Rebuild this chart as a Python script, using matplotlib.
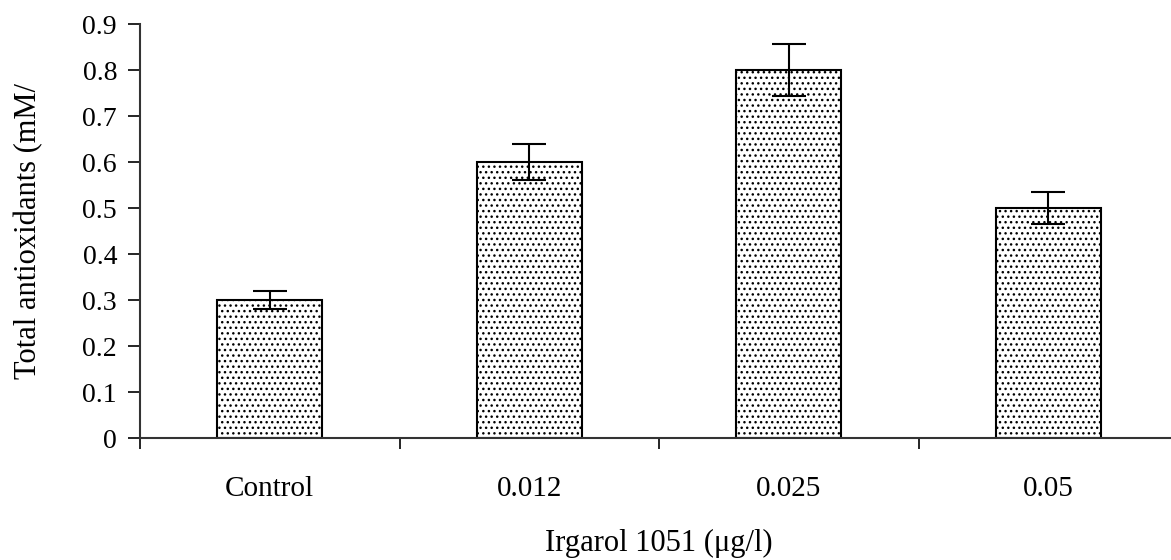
import matplotlib
matplotlib.use("Agg")
import matplotlib.pyplot as plt
import numpy as np

categories = ["Control", "0.012", "0.025", "0.05"]
values = [0.3, 0.6, 0.8, 0.5]
errors = [0.02, 0.04, 0.057, 0.035]
yticks = [0, 0.1, 0.2, 0.3, 0.4, 0.5, 0.6, 0.7, 0.8, 0.9]

plt.rcParams['font.family'] = ['Liberation Serif', 'DejaVu Serif']
plt.rcParams['hatch.color'] = '#333333'
plt.rcParams['hatch.linewidth'] = 1.0

fig = plt.figure(figsize=(11.71, 5.60), dpi=100)
W, H = 1171, 560
ax = fig.add_axes([140 / W, (H - 438) / H, (1178 - 140) / W, (438 - 24) / H])

x = np.arange(len(categories))
ax.bar(x, values, width=0.405, color='white', edgecolor='black', linewidth=1.5,
       hatch='...', zorder=2)
ax.errorbar(x, values, yerr=errors, fmt='none', ecolor='black', elinewidth=1.5,
            capsize=12, capthick=1.5, zorder=3)

ax.set_xlim(-0.5, len(categories) - 0.5)
ax.set_ylim(0, 0.9)
ax.set_yticks(yticks)
ax.set_yticklabels([f"{t:g}" for t in yticks])
ax.set_xticks(x)
ax.set_xticklabels(categories)
ax.set_xticks(np.arange(len(categories) + 1) - 0.5, minor=True)
ax.tick_params(axis='x', which='major', length=0, pad=27, labelsize=21)
ax.tick_params(axis='x', which='minor', length=8, width=1.2, direction='out')
ax.tick_params(axis='y', which='major', length=8.5, width=1.2, direction='out', labelsize=20, pad=8)

for s in ['top', 'right']:
    ax.spines[s].set_visible(False)
for s in ['left', 'bottom']:
    ax.spines[s].set_linewidth(1.5)
    ax.spines[s].set_color('#333333')

ax.set_ylabel("Total antioxidants (mM/", fontsize=22, labelpad=28)
ax.set_xlabel("Irgarol 1051 (\u03bcg/l)", fontsize=22, labelpad=20)

fig.savefig("out.png", dpi=100)
